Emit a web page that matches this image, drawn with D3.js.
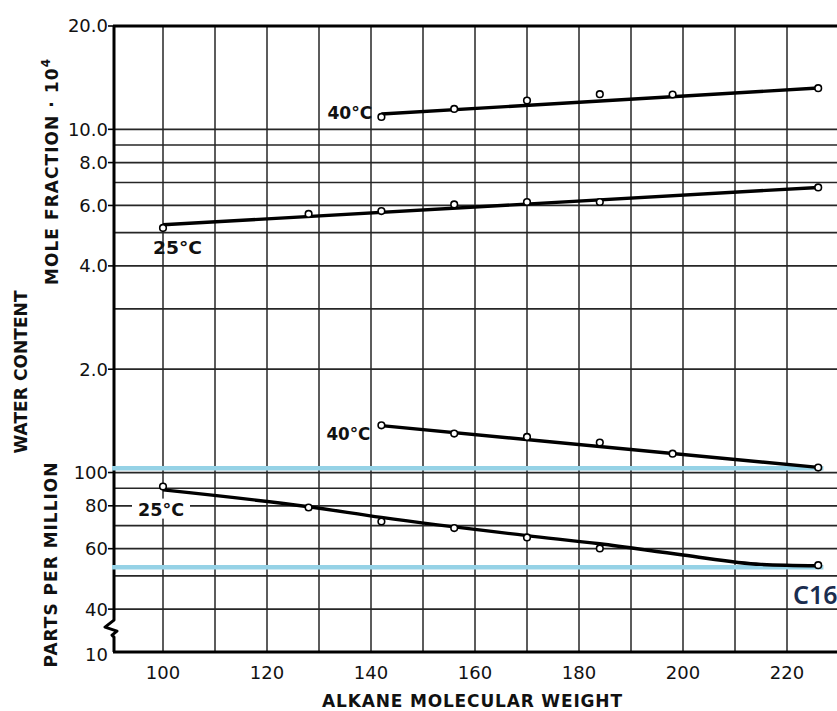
<!DOCTYPE html>
<html><head><meta charset="utf-8">
<script src="https://cdn.jsdelivr.net/npm/d3@7"></script>
<style>html,body{margin:0;padding:0;background:#fff;} svg{display:block;}</style>
</head><body>
<svg id="chart" width="837" height="711"></svg>
<script>
// ---------------- data ----------------
const mw25 = [100, 128, 142, 156, 170, 184, 226];
const mw40 = [142, 156, 170, 184, 198, 226];
const moleFrac25 = [5.16, 5.67, 5.78, 6.04, 6.14, 6.14, 6.77];
const moleFrac40 = [10.87, 11.47, 12.13, 12.66, 12.63, 13.18];
const ppm25 = [91.0, 79.1, 72.0, 68.9, 64.7, 60.1, 53.7];
const ppm40 = [137.3, 129.9, 127.0, 122.3, 113.5, 103.4];
// hand-drawn smoothing curves
const curveMw25mf = [100, 226];
const curveMf25 = [5.27, 6.77];
const curveMw40mf = [142, 226];
const curveMf40 = [11.08, 13.19];
const curveMw25ppm = [100, 128, 142, 170, 184, 200, 215, 226];
const curvePpm25 = [89, 79.5, 74, 65.5, 62, 57.5, 54, 53.5];
const curveMw40ppm = [142, 226];
const curvePpm40 = [137, 103.5];
// highlight overlay
const highlightPpm = [103, 53];
const highlightMwEnd = 227;
const highlightLabel = "C16";
// ticks / grid
const xTicks = [100, 120, 140, 160, 180, 200, 220];
const xGrid = [100, 110, 120, 130, 140, 150, 160, 170, 180, 190, 200, 210, 220, 230];
const mfTicks = [20, 10, 8, 6, 4, 2];
const mfTickLabels = ["20.0", "10.0", "8.0", "6.0", "4.0", "2.0"];
const mfGrid = [10, 9, 8, 7, 6, 5, 4, 3, 2];
const ppmTicks = [100, 80, 60, 40];
const ppmTickLabels = ["100", "80", "60", "40"];
const ppmGrid = [100, 90, 80, 70, 60, 50, 40];
const ppmBreakLabel = "10";
const seriesLabels = ["40°C", "25°C", "40°C", "25°C"];

// ---------------- layout ----------------
const W = 837, H = 711;
const L = 114, T = 26, B = 652, R = 837;
const svg = d3.select("#chart");

const x = d3.scaleLinear().domain([100, 220]).range([163, 787]);
const yMF = d3.scaleLog().domain([0.3, 20]).range([B, T]);
const yPPM = d3.scaleLog().domain([30, 2000]).range([B, T]);

const font = "'DejaVu Sans', 'Liberation Sans', sans-serif";
const gridColor = "#262626";

// grid
const g = svg.append("g");
g.selectAll("line.hmf").data(mfGrid).join("line")
  .attr("x1", L).attr("x2", R).attr("y1", d => yMF(d)).attr("y2", d => yMF(d))
  .attr("stroke", gridColor).attr("stroke-width", 1.7);
g.selectAll("line.hppm").data(ppmGrid).join("line")
  .attr("x1", L).attr("x2", R).attr("y1", d => yPPM(d)).attr("y2", d => yPPM(d))
  .attr("stroke", gridColor).attr("stroke-width", 1.7);
g.selectAll("line.v").data(xGrid.filter(d => x(d) < W)).join("line")
  .attr("x1", d => x(d)).attr("x2", d => x(d)).attr("y1", T).attr("y2", B)
  .attr("stroke", gridColor).attr("stroke-width", 1.5);

// frame
svg.append("line").attr("x1", L - 1).attr("x2", R).attr("y1", T).attr("y2", T)
  .attr("stroke", "#000").attr("stroke-width", 3);
svg.append("line").attr("x1", L - 1).attr("x2", R).attr("y1", B).attr("y2", B)
  .attr("stroke", "#000").attr("stroke-width", 3);
const y40 = yPPM(40);
const bk = y40 + 11;
svg.append("path")
  .attr("d", `M${L},${T} L${L},${bk} L${L - 9},${bk + 7} L${L + 3},${bk + 11} L${L - 2},${bk + 15} L${L},${bk + 17} L${L},${B}`)
  .attr("fill", "none").attr("stroke", "#000").attr("stroke-width", 3).attr("stroke-linejoin", "round");

// left ticks + labels
const axL = svg.append("g").attr("font-family", font).attr("font-size", 18).attr("fill", "#111");
mfTicks.forEach((v, i) => {
  const yy = yMF(v);
  axL.append("line").attr("x1", L - 6).attr("x2", L).attr("y1", yy).attr("y2", yy).attr("stroke", "#000").attr("stroke-width", 1.6);
  axL.append("text").attr("x", L - 6).attr("y", yy).attr("dy", "0.36em").attr("text-anchor", "end").text(mfTickLabels[i]);
});
ppmTicks.forEach((v, i) => {
  const yy = yPPM(v);
  axL.append("line").attr("x1", L - 6).attr("x2", L).attr("y1", yy).attr("y2", yy).attr("stroke", "#000").attr("stroke-width", 1.6);
  axL.append("text").attr("x", L - 6).attr("y", yy).attr("dy", "0.36em").attr("text-anchor", "end").text(ppmTickLabels[i]);
});
axL.append("text").attr("x", L - 6).attr("y", B + 3).attr("dy", "0.36em").attr("text-anchor", "end").text(ppmBreakLabel);

// bottom labels
const axB = svg.append("g").attr("font-family", font).attr("font-size", 18).attr("fill", "#111");
axB.selectAll("text").data(xTicks).join("text")
  .attr("x", d => x(d)).attr("y", B + 27).attr("text-anchor", "middle").text(d => d);

// axis titles
const titleAttrs = sel => sel.attr("font-family", font).attr("font-weight", "bold").attr("font-size", 17)
  .attr("fill", "#111").attr("lengthAdjust", "spacing");
titleAttrs(svg.append("text").attr("x", 472).attr("y", 707).attr("text-anchor", "middle")
  .attr("textLength", 300)).text("ALKANE MOLECULAR WEIGHT");
titleAttrs(svg.append("text").attr("transform", "translate(27,372) rotate(-90)").attr("text-anchor", "middle")
  .attr("textLength", 163)).text("WATER CONTENT");
const mft = svg.append("text").attr("transform", "translate(58,172) rotate(-90)").attr("text-anchor", "middle");
titleAttrs(mft).attr("textLength", 226);
mft.append("tspan").text("MOLE FRACTION · 10");
mft.append("tspan").attr("dy", -8).attr("font-size", 12).text("4");
titleAttrs(svg.append("text").attr("transform", "translate(57,565) rotate(-90)").attr("text-anchor", "middle")
  .attr("textLength", 205)).text("PARTS PER MILLION");

// highlight lines
svg.selectAll("line.hl").data(highlightPpm).join("line")
  .attr("x1", L - 2).attr("x2", x(highlightMwEnd)).attr("y1", d => yPPM(d)).attr("y2", d => yPPM(d))
  .attr("stroke", "#95d2e6").attr("stroke-width", 4.5);

// curves
const lineMF = d3.line().x(d => x(d[0])).y(d => yMF(d[1])).curve(d3.curveMonotoneX);
const linePPM = d3.line().x(d => x(d[0])).y(d => yPPM(d[1])).curve(d3.curveMonotoneX);
const curves = [
  lineMF(d3.zip(curveMw40mf, curveMf40)),
  lineMF(d3.zip(curveMw25mf, curveMf25)),
  linePPM(d3.zip(curveMw40ppm, curvePpm40)),
  linePPM(d3.zip(curveMw25ppm, curvePpm25))
];
svg.selectAll("path.c").data(curves).join("path")
  .attr("d", d => d).attr("fill", "none").attr("stroke", "#000").attr("stroke-width", 3.4);

// points
const pts = [
  ...d3.zip(mw40, moleFrac40).map(d => [x(d[0]), yMF(d[1])]),
  ...d3.zip(mw25, moleFrac25).map(d => [x(d[0]), yMF(d[1])]),
  ...d3.zip(mw40, ppm40).map(d => [x(d[0]), yPPM(d[1])]),
  ...d3.zip(mw25, ppm25).map(d => [x(d[0]), yPPM(d[1])])
];
svg.selectAll("circle.p").data(pts).join("circle")
  .attr("cx", d => d[0]).attr("cy", d => d[1]).attr("r", 3.3)
  .attr("fill", "#fff").attr("stroke", "#000").attr("stroke-width", 1.6);

// series labels
const lab = svg.append("g").attr("font-family", font).attr("font-size", 18).attr("fill", "#111").attr("font-weight", 600);
lab.append("text").attr("x", x(mw40[0]) - 9).attr("y", yMF(moleFrac40[0]) - 4).attr("dy", "0.36em")
  .attr("text-anchor", "end").attr("textLength", 45).attr("lengthAdjust", "spacingAndGlyphs").text(seriesLabels[0]);
lab.append("text").attr("x", x(mw25[0]) - 10).attr("y", yMF(moleFrac25[0]) + 20).attr("dy", "0.36em")
  .attr("text-anchor", "start").attr("textLength", 49).attr("lengthAdjust", "spacingAndGlyphs").text(seriesLabels[1]);
lab.append("text").attr("x", x(mw40[0]) - 11).attr("y", yPPM(ppm40[0]) + 8).attr("dy", "0.36em")
  .attr("text-anchor", "end").attr("textLength", 44).attr("lengthAdjust", "spacingAndGlyphs").text(seriesLabels[2]);
const l25x = x(mw25[0]) - 25, l25y = yPPM(ppm25[0]) + 23;
lab.append("rect").attr("x", l25x - 6).attr("y", l25y - 11).attr("width", 58).attr("height", 20).attr("fill", "#fff");
lab.append("text").attr("x", l25x).attr("y", l25y).attr("dy", "0.36em")
  .attr("text-anchor", "start").attr("textLength", 46).attr("lengthAdjust", "spacingAndGlyphs").text(seriesLabels[3]);

// C16 annotation
svg.append("text").attr("x", 793).attr("y", 604).attr("font-family", "'Noto Sans', 'Open Sans', sans-serif")
  .attr("font-size", 25).attr("font-weight", 600).attr("fill", "#1b2d4f").text(highlightLabel);
</script>
</body></html>
